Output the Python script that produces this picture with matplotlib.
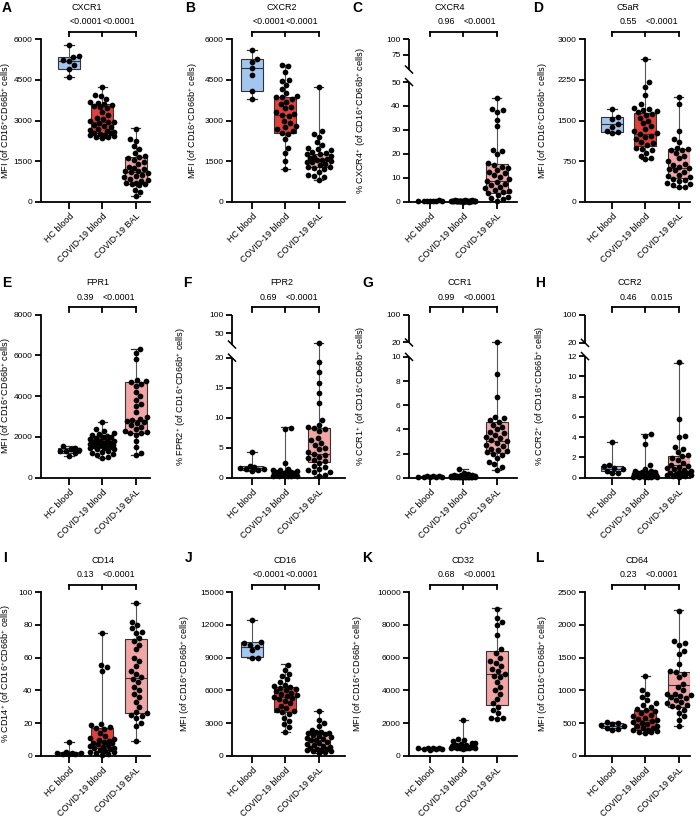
import numpy as np
import matplotlib
matplotlib.use('Agg')
import matplotlib.pyplot as plt
from matplotlib.ticker import NullLocator

plt.rcParams['font.family'] = ['Liberation Sans', 'DejaVu Sans']
plt.rcParams['mathtext.fontset'] = 'custom'
plt.rcParams['mathtext.rm'] = 'Liberation Sans'
plt.rcParams['mathtext.it'] = 'Liberation Sans:italic'
plt.rcParams['mathtext.bf'] = 'Liberation Sans:bold'

# ---------------- data ----------------
groups = ['HC blood', 'COVID-19 blood', 'COVID-19 BAL']
letters = ['A', 'B', 'C', 'D', 'E', 'F', 'G', 'H', 'I', 'J', 'K', 'L']
titles = ['CXCR1', 'CXCR2', 'CXCR4', 'C5aR', 'FPR1', 'FPR2', 'CCR1', 'CCR2',
          'CD14', 'CD16', 'CD32', 'CD64']
pvals = [('<0.0001', '<0.0001'), ('<0.0001', '<0.0001'), ('0.96', '<0.0001'),
         ('0.55', '<0.0001'), ('0.39', '<0.0001'), ('0.69', '<0.0001'),
         ('0.99', '<0.0001'), ('0.46', '0.015'), ('0.13', '<0.0001'),
         ('<0.0001', '<0.0001'), ('0.68', '<0.0001'), ('0.23', '<0.0001')]
MFI = r'MFI (of CD16$^{+}$CD66b$^{+}$ cells)'
ylabels = [MFI, MFI, r'% CXCR4$^{+}$ (of CD16$^{+}$CD66b$^{+}$ cells)', MFI,
           MFI, r'% FPR2$^{+}$ (of CD16$^{+}$CD66b$^{+}$ cells)',
           r'% CCR1$^{+}$ (of CD16$^{+}$CD66b$^{+}$ cells)',
           r'% CCR2$^{+}$ (of CD16$^{+}$CD66b$^{+}$ cells)',
           r'% CD14$^{+}$ (of CD16$^{+}$CD66b$^{+}$ cells)', MFI, MFI, MFI]
yticks = [[0, 1500, 3000, 4500, 6000], [0, 1500, 3000, 4500, 6000],
          [0, 10, 20, 30, 40, 50, 75, 100], [0, 750, 1500, 2250, 3000],
          [0, 2000, 4000, 6000, 8000], [0, 5, 10, 15, 20, 50, 100],
          [0, 2, 4, 6, 8, 10, 20, 100], [0, 2, 4, 6, 8, 10, 12, 20, 100],
          [0, 20, 40, 60, 80, 100], [0, 3000, 6000, 9000, 12000, 15000],
          [0, 2000, 4000, 6000, 8000, 10000], [0, 500, 1000, 1500, 2000, 2500]]
# broken axes: data anchors
breaks = {2: [0, 50, 51, 100], 5: [0, 20, 20.5, 100], 6: [0, 10, 20, 100],
          7: [0, 12, 20, 100]}

# box stats per group: [min, q1, median, q3, max]
cxcr1_stats = [[4600, 4890, 5200, 5360, 5800], [2350, 2530, 2950, 3600, 4250], [200, 640, 1110, 1660, 2730]]
cxcr2_stats = [[3780, 4090, 4930, 5260, 5600], [1210, 2550, 3200, 3860, 5050], [800, 1290, 1540, 1760, 4220]]
cxcr4_stats = [[0.2, 0.3, 0.4, 0.5, 0.6], [0.05, 0.15, 0.25, 0.4, 0.7], [0.4, 3.75, 8.6, 15.7, 43.5]]
c5ar_stats = [[1275, 1294, 1435, 1558, 1706], [782, 1035, 1250, 1632, 2630], [265, 431, 616, 973, 1928]]
fpr1_stats = [[1065, 1196, 1328, 1442, 1557], [950, 1442, 1721, 2016, 2753], [1115, 2180, 2835, 4671, 6310]]
fpr2_stats = [[1.1, 1.27, 1.55, 1.94, 4.3], [0.17, 0.33, 0.6, 1.0, 8.5], [0.3, 2.55, 4.0, 8.3, 24]]
ccr1_stats = [[0.05, 0.065, 0.08, 0.1, 0.12], [0.02, 0.05, 0.09, 0.15, 0.69], [0.64, 2.08, 3.0, 4.6, 21]]
ccr2_stats = [[0.43, 0.66, 0.86, 1.18, 3.5], [0.03, 0.1, 0.26, 0.66, 4.28], [0.1, 0.43, 1.25, 2.17, 11.35]]
cd14_stats = [[0.8, 0.8, 1.4, 2.0, 8.2], [0.4, 4.5, 7.5, 16.7, 74.9], [9.2, 25.9, 47.3, 71.2, 93.7]]
cd16_stats = [[8938, 9030, 10010, 10408, 12459], [2204, 4040, 5418, 6336, 8387], [214, 580, 1440, 2112, 4100]]
cd32_stats = [[330, 390, 440, 475, 500], [440, 480, 560, 680, 2180], [2286, 3102, 4980, 6429, 9021]]
cd64_stats = [[393, 418, 459, 495, 520], [342, 390, 546, 699, 1224], [454, 750, 1082, 1286, 2230]]

# individual points
cxcr1_hc = [5800, 5380, 5340, 5230, 5180, 5050, 4900, 4600]
cxcr1_cov = [4250, 3950, 3900, 3800, 3700, 3650, 3600, 3580, 3550, 3500, 3450, 3300, 3200, 3100,
             3050, 3000, 2950, 2950, 2900, 2850, 2800, 2750, 2700, 2650, 2600, 2580, 2550, 2520,
             2500, 2480, 2450, 2420, 2400, 2380, 2350]
cxcr1_bal = [2700, 2300, 2250, 2050, 1950, 1800, 1700, 1650, 1600, 1550, 1450, 1400, 1300, 1250,
             1200, 1150, 1150, 1100, 1050, 1000, 950, 900, 850, 800, 750, 700, 700, 650, 650, 600,
             450, 350, 200]
cxcr2_hc = [5600, 5270, 5150, 4930, 4680, 4090, 3780]
cxcr2_cov = [5050, 5000, 4800, 4500, 4450, 4300, 4150, 4000, 3900, 3850, 3850, 3800, 3700, 3600,
             3500, 3450, 3300, 3250, 3200, 3150, 3000, 2900, 2800, 2750, 2700, 2600, 2550, 2500,
             2300, 2000, 1800, 1500, 1200]
cxcr2_bal = [4220, 2600, 2500, 2400, 2200, 2100, 2000, 1950, 1900, 1850, 1800, 1780, 1750, 1700,
             1650, 1600, 1580, 1550, 1530, 1500, 1480, 1450, 1400, 1350, 1300, 1280, 1250, 1200,
             1100, 1000, 950, 900, 800]
cxcr4_hc = [0.6, 0.5, 0.5, 0.4, 0.4, 0.3, 0.3, 0.2]
cxcr4_cov = [0.7, 0.6, 0.55, 0.5, 0.5, 0.45, 0.45, 0.4, 0.4, 0.4, 0.35, 0.35, 0.3, 0.3, 0.3, 0.3,
             0.25, 0.25, 0.25, 0.2, 0.2, 0.2, 0.2, 0.15, 0.15, 0.15, 0.1, 0.1, 0.1, 0.1, 0.05, 0.05]
cxcr4_bal = [43.5, 38.9, 38.2, 37.5, 34, 31.5, 21.8, 21.3, 20, 16, 15.3, 14.6, 13.9, 13.2, 12.5,
             11.8, 11.1, 10.4, 9.5, 8.6, 8.3, 7.6, 6.9, 6.2, 5.6, 4.9, 4.5, 4.2, 3.5, 2.8, 2.1,
             1.4, 1.0, 0.4]
c5ar_hc = [1706, 1570, 1520, 1435, 1386, 1312, 1294, 1275]
c5ar_cov = [2630, 2210, 2120, 1980, 1800, 1740, 1720, 1700, 1680, 1650, 1620, 1600, 1550, 1500,
            1450, 1400, 1350, 1300, 1270, 1250, 1220, 1200, 1150, 1100, 1080, 1050, 1000, 980,
            950, 900, 850, 800, 780]
c5ar_bal = [1930, 1800, 1310, 1150, 1100, 1000, 980, 960, 950, 900, 850, 800, 750, 700, 680, 650,
            620, 600, 580, 550, 500, 480, 450, 420, 400, 380, 350, 320, 300, 280, 270]
fpr1_hc = [1560, 1450, 1420, 1380, 1330, 1300, 1200, 1070]
fpr1_cov = [2750, 2400, 2300, 2200, 2150, 2100, 2050, 2000, 2000, 1950, 1900, 1850, 1800, 1780,
            1750, 1720, 1700, 1680, 1650, 1620, 1600, 1580, 1550, 1500, 1480, 1450, 1420, 1400,
            1300, 1250, 1200, 1150, 1100, 1000, 950]
fpr1_bal = [6300, 6100, 5800, 4800, 4750, 4700, 4600, 4500, 4200, 4000, 3800, 3600, 3500, 3200,
            3000, 2900, 2850, 2800, 2750, 2700, 2600, 2500, 2400, 2300, 2250, 2200, 2200, 2100,
            1800, 1500, 1200, 1100]
fpr2_hc = [4.3, 1.9, 1.7, 1.6, 1.5, 1.4, 1.3, 1.1]
fpr2_cov = [8.3, 8.1, 2.4, 1.5, 1.3, 1.2, 1.1, 1.0, 0.95, 0.9, 0.85, 0.8, 0.75, 0.7, 0.7, 0.65,
            0.6, 0.6, 0.55, 0.5, 0.5, 0.45, 0.4, 0.4, 0.35, 0.3, 0.3, 0.25, 0.2, 0.2]
fpr2_bal = [24, 19.2, 17.6, 15.7, 14.1, 12.5, 9.6, 8.8, 8.5, 8.3, 8.1, 7.8, 6.6, 6.2, 5.8, 5.5,
            5.0, 4.7, 4.2, 4.0, 3.8, 3.5, 3.2, 3.0, 2.8, 2.5, 2.0, 1.8, 1.5, 1.2, 1.0, 0.9, 0.5, 0.3]
ccr1_hc = [0.12, 0.1, 0.1, 0.08, 0.08, 0.07, 0.06, 0.05]
ccr1_cov = [0.69, 0.35, 0.3, 0.25, 0.22, 0.2, 0.18, 0.16, 0.15, 0.14, 0.13, 0.12, 0.11, 0.1, 0.1,
            0.09, 0.08, 0.08, 0.07, 0.07, 0.06, 0.06, 0.05, 0.05, 0.04, 0.04, 0.03, 0.03, 0.02]
ccr1_bal = [21, 8.6, 6.7, 5.0, 4.9, 4.8, 4.6, 4.4, 4.2, 4.0, 3.8, 3.7, 3.5, 3.4, 3.3, 3.1, 3.0,
            2.9, 2.7, 2.6, 2.4, 2.3, 2.2, 2.1, 2.0, 1.9, 1.6, 1.3, 1.1, 0.9, 0.65]
ccr2_hc = [3.5, 1.3, 1.2, 1.0, 0.9, 0.7, 0.5, 0.45]
ccr2_cov = [4.3, 4.1, 3.3, 1.3, 0.9, 0.7, 0.65, 0.6, 0.55, 0.5, 0.45, 0.4, 0.35, 0.3, 0.3, 0.25,
            0.25, 0.2, 0.2, 0.15, 0.15, 0.1, 0.1, 0.08, 0.05, 0.05, 0.03]
ccr2_bal = [11.4, 5.8, 4.1, 4.0, 3.0, 2.8, 2.5, 2.2, 2.1, 1.9, 1.7, 1.5, 1.3, 1.2, 1.1, 1.0, 0.9,
            0.8, 0.7, 0.6, 0.5, 0.45, 0.4, 0.35, 0.3, 0.25, 0.2, 0.15, 0.1]
cd14_hc = [8.2, 2.1, 1.9, 1.6, 1.4, 1.2, 1.0, 0.8]
cd14_cov = [75, 55.5, 54, 52, 19.5, 18.5, 17.5, 17, 16.5, 14, 12, 11, 10, 9.5, 9, 8.5, 8, 7.5, 7,
            6.5, 6, 5.5, 5, 4.5, 4, 3.5, 3, 2.5, 2, 1.5, 1, 0.5]
cd14_bal = [93.5, 82, 80, 78, 76, 75, 72, 70, 68, 65, 60, 58, 55, 52, 50, 48, 47, 45, 42, 40, 38,
            36, 33, 30, 27, 26, 25, 24, 23, 20, 18, 9.2]
cd16_hc = [12450, 10450, 10350, 10200, 10000, 9700, 9000, 8950]
cd16_cov = [8350, 7900, 7500, 7300, 7000, 6800, 6500, 6400, 6300, 6200, 6100, 6000, 5900, 5800,
            5700, 5600, 5500, 5400, 5300, 5200, 5000, 4800, 4600, 4400, 4200, 4100, 4000, 3800,
            3500, 3200, 2900, 2600, 2200]
cd16_bal = [4100, 3300, 3000, 2700, 2400, 2200, 2150, 2100, 2050, 2000, 1900, 1800, 1700, 1600,
            1500, 1450, 1400, 1300, 1200, 1100, 1000, 900, 800, 700, 650, 600, 550, 500, 450,
            400, 300, 250]
cd32_hc = [500, 480, 470, 450, 430, 400, 380, 330]
cd32_cov = [2180, 1000, 950, 900, 800, 750, 700, 680, 650, 620, 600, 580, 560, 550, 540, 530, 520,
            510, 500, 490, 480, 470, 460, 450, 440]
cd32_bal = [9000, 8400, 8200, 8000, 7400, 6500, 6300, 6000, 5800, 5700, 5500, 5300, 5200, 5000,
            4900, 4800, 4500, 4200, 4000, 3800, 3500, 3200, 3000, 2800, 2600, 2300, 2300, 2250]
cd64_hc = [520, 500, 490, 470, 450, 430, 410, 395]
cd64_cov = [1220, 1000, 950, 900, 850, 800, 780, 750, 720, 700, 680, 650, 620, 600, 580, 560, 550,
            530, 510, 500, 480, 460, 450, 430, 420, 400, 390, 380, 370, 360, 350]
cd64_bal = [2220, 1750, 1720, 1700, 1600, 1550, 1400, 1300, 1280, 1250, 1200, 1100, 1050, 1000,
            950, 940, 930, 920, 900, 880, 850, 820, 800, 780, 760, 740, 700, 650, 600, 550, 450]

all_points = [(cxcr1_hc, cxcr1_cov, cxcr1_bal), (cxcr2_hc, cxcr2_cov, cxcr2_bal),
              (cxcr4_hc, cxcr4_cov, cxcr4_bal), (c5ar_hc, c5ar_cov, c5ar_bal),
              (fpr1_hc, fpr1_cov, fpr1_bal), (fpr2_hc, fpr2_cov, fpr2_bal),
              (ccr1_hc, ccr1_cov, ccr1_bal), (ccr2_hc, ccr2_cov, ccr2_bal),
              (cd14_hc, cd14_cov, cd14_bal), (cd16_hc, cd16_cov, cd16_bal),
              (cd32_hc, cd32_cov, cd32_bal), (cd64_hc, cd64_cov, cd64_bal)]
all_stats = [cxcr1_stats, cxcr2_stats, cxcr4_stats, c5ar_stats, fpr1_stats, fpr2_stats,
             ccr1_stats, ccr2_stats, cd14_stats, cd16_stats, cd32_stats, cd64_stats]

# ---------------- layout (pixels) ----------------
W, H = 700, 817
fig = plt.figure(figsize=(7, 8.17), dpi=100)
row_tb = [(39.3, 201.7), (314.5, 477.7), (592.3, 755.7)]
col_spine = [41, 232, 409, 585]
col_cat0 = [69, 252, 430, 612]
col_end = [150, 345, 517, 690]
cat_step = 33.4
title_x = [[87, 282, 450, 628], [98, 282, 460, 630], [103, 285, 463, 637]]
letter_x = [[2, 185, 352, 533], [2, 183, 362, 535], [3, 185, 362, 535]]
letter_y = [7.5, 283, 558]
ylab_x = [[13, 200, 368, 550], [13, 188, 368, 547], [13, 192, 365, 550]]
# break fractions (bottom segment top, top segment bottom)
break_fracs = {2: (0.737, 0.814), 5: (0.7356, 0.816), 6: (0.7405, 0.8286), 7: (0.745, 0.826)}

box_colors = ['#a3c6f0', '#e0403a', '#f2a5a5']
LW = 1.3


def fx(px):
    return px / W


def fy(py):
    return 1 - py / H


def make_funcs(d, f):
    d = np.asarray(d, float)
    f = np.asarray(f, float)

    def fwd(y):
        y = np.asarray(y, float)
        out = np.interp(y, d, f)
        s0 = (f[1] - f[0]) / (d[1] - d[0])
        s1 = (f[-1] - f[-2]) / (d[-1] - d[-2])
        out = np.where(y < d[0], f[0] + (y - d[0]) * s0, out)
        out = np.where(y > d[-1], f[-1] + (y - d[-1]) * s1, out)
        return out

    def inv(v):
        v = np.asarray(v, float)
        out = np.interp(v, f, d)
        s0 = (d[1] - d[0]) / (f[1] - f[0])
        s1 = (d[-1] - d[-2]) / (f[-1] - f[-2])
        out = np.where(v < f[0], d[0] + (v - f[0]) * s0, out)
        out = np.where(v > f[-1], d[-1] + (v - f[-1]) * s1, out)
        return out
    return fwd, inv


def swarm(ypix, diam=5.8, maxw=12.0, step=0.5):
    ypix = np.asarray(ypix, float)
    order = np.argsort(ypix)
    cands = [0.0]
    k = 1
    while k * step <= maxw:
        cands += [k * step, -k * step]
        k += 1
    px_, py_ = [], []
    offs = np.zeros(len(ypix))
    for i in order:
        y = ypix[i]
        best, bestd = 0.0, -1
        for c in cands:
            if px_:
                dmin = np.sqrt((np.array(px_) - c) ** 2 + (np.array(py_) - y) ** 2).min()
            else:
                dmin = np.inf
            if dmin >= diam:
                best = c
                break
            if dmin > bestd:
                bestd, best = dmin, c
        offs[i] = best
        px_.append(best)
        py_.append(y)
    return offs


for idx in range(12):
    r, c = divmod(idx, 4)
    top_px, bot_px = row_tb[r]
    ax = fig.add_axes([fx(col_spine[c]), fy(bot_px), (col_end[c] - col_spine[c]) / W,
                       (bot_px - top_px) / H])
    ax_h = bot_px - top_px
    ax_w = col_end[c] - col_spine[c]
    xl = -(col_cat0[c] - col_spine[c]) / cat_step
    xr = xl + ax_w / cat_step
    ticks = yticks[idx]
    if idx in breaks:
        fb, ft = break_fracs[idx]
        d = breaks[idx]
        fwd, inv = make_funcs(d, [0, fb, ft, 1])
        ax.set_yscale('function', functions=(fwd, inv))
        ylo, yhi = d[0], d[-1]
    else:
        ylo, yhi = ticks[0], ticks[-1]

    # box plots
    st = all_stats[idx]
    stats = [dict(whislo=s[0], q1=s[1], med=s[2], q3=s[3], whishi=s[4], fliers=[])
             for s in st]
    bp = ax.bxp(stats, positions=[0, 1, 2], widths=0.66, patch_artist=True, showfliers=False,
                capwidths=0.28, manage_ticks=False,
                boxprops=dict(edgecolor='#333333', linewidth=0.8),
                whiskerprops=dict(color='#555555', linewidth=0.8),
                capprops=dict(color='#333333', linewidth=0.9),
                medianprops=dict(color='#333333', linewidth=0.8), zorder=1)
    for patch, col in zip(bp['boxes'], box_colors):
        patch.set_facecolor(col)

    ax.set_xlim(xl, xr)
    ax.set_ylim(ylo, yhi)
    ax.set_yticks(ticks)
    ax.set_yticklabels([str(t) for t in ticks])
    ax.yaxis.set_minor_locator(NullLocator())
    ax.xaxis.set_minor_locator(NullLocator())
    ax.set_xticks([0, 1, 2])
    ax.set_xticklabels(groups, rotation=45, ha='right', rotation_mode='anchor', fontsize=6.4)
    ax.tick_params(axis='y', labelsize=6.0, length=4.5, width=LW, pad=1.5)
    ax.tick_params(axis='x', length=5, width=LW, pad=2)
    for s in ['top', 'right']:
        ax.spines[s].set_visible(False)
    ax.spines['bottom'].set_linewidth(LW)
    ax.spines['left'].set_linewidth(LW)

    if idx in breaks:
        ax.spines['left'].set_visible(False)
        ax.plot([0, 0], [0, fb], transform=ax.transAxes, color='k', lw=LW, clip_on=False,
                solid_capstyle='butt')
        ax.plot([0, 0], [ft, 1], transform=ax.transAxes, color='k', lw=LW, clip_on=False,
                solid_capstyle='butt')
        dx, dy = 3.5 / ax_w, 3.5 / ax_h
        for yy in (fb, ft):
            ax.plot([-dx, dx], [yy + dy, yy - dy], transform=ax.transAxes, color='k', lw=1.1,
                    clip_on=False)

    # points (swarm)
    pxu = ax.transData.transform((1, 0))[0] - ax.transData.transform((0, 0))[0]
    for g, vals in enumerate(all_points[idx]):
        vals = np.asarray(vals, float)
        ypix = ax.transData.transform(np.column_stack([np.zeros(len(vals)), vals]))[:, 1]
        offs = swarm(ypix)
        ax.scatter(g + offs / pxu, vals, s=17, color='black', zorder=3, linewidths=0,
                   clip_on=False)

    # y label
    ax.set_ylabel(ylabels[idx], fontsize=6.6)
    ax.yaxis.set_label_coords(fx(ylab_x[r][c]), fy((top_px + bot_px) / 2),
                              transform=fig.transFigure)

    # bracket
    yb = 1 + 7.3 / ax_h
    yt = 1 + 3.0 / ax_h
    tr = ax.get_xaxis_transform()
    ax.plot([0, 2], [yb, yb], transform=tr, color='k', lw=LW, clip_on=False,
            solid_capstyle='projecting')
    for xx in (0, 1, 2):
        ax.plot([xx, xx], [yb, yt], transform=tr, color='k', lw=LW, clip_on=False)
    yp = 1 + 17.5 / ax_h
    ax.text(0.5, yp, pvals[idx][0], transform=tr, ha='center', va='center', fontsize=6.4)
    ax.text(1.5, yp, pvals[idx][1], transform=tr, ha='center', va='center', fontsize=6.4)

    # title and letter
    fig.text(fx(title_x[r][c]), fy(top_px - 32), titles[idx], ha='center', va='center',
             fontsize=6.5)
    fig.text(fx(letter_x[r][c]), fy(letter_y[r]), letters[idx], ha='left', va='center',
             fontsize=10, fontweight='bold')

fig.savefig('out.png', dpi=100)
